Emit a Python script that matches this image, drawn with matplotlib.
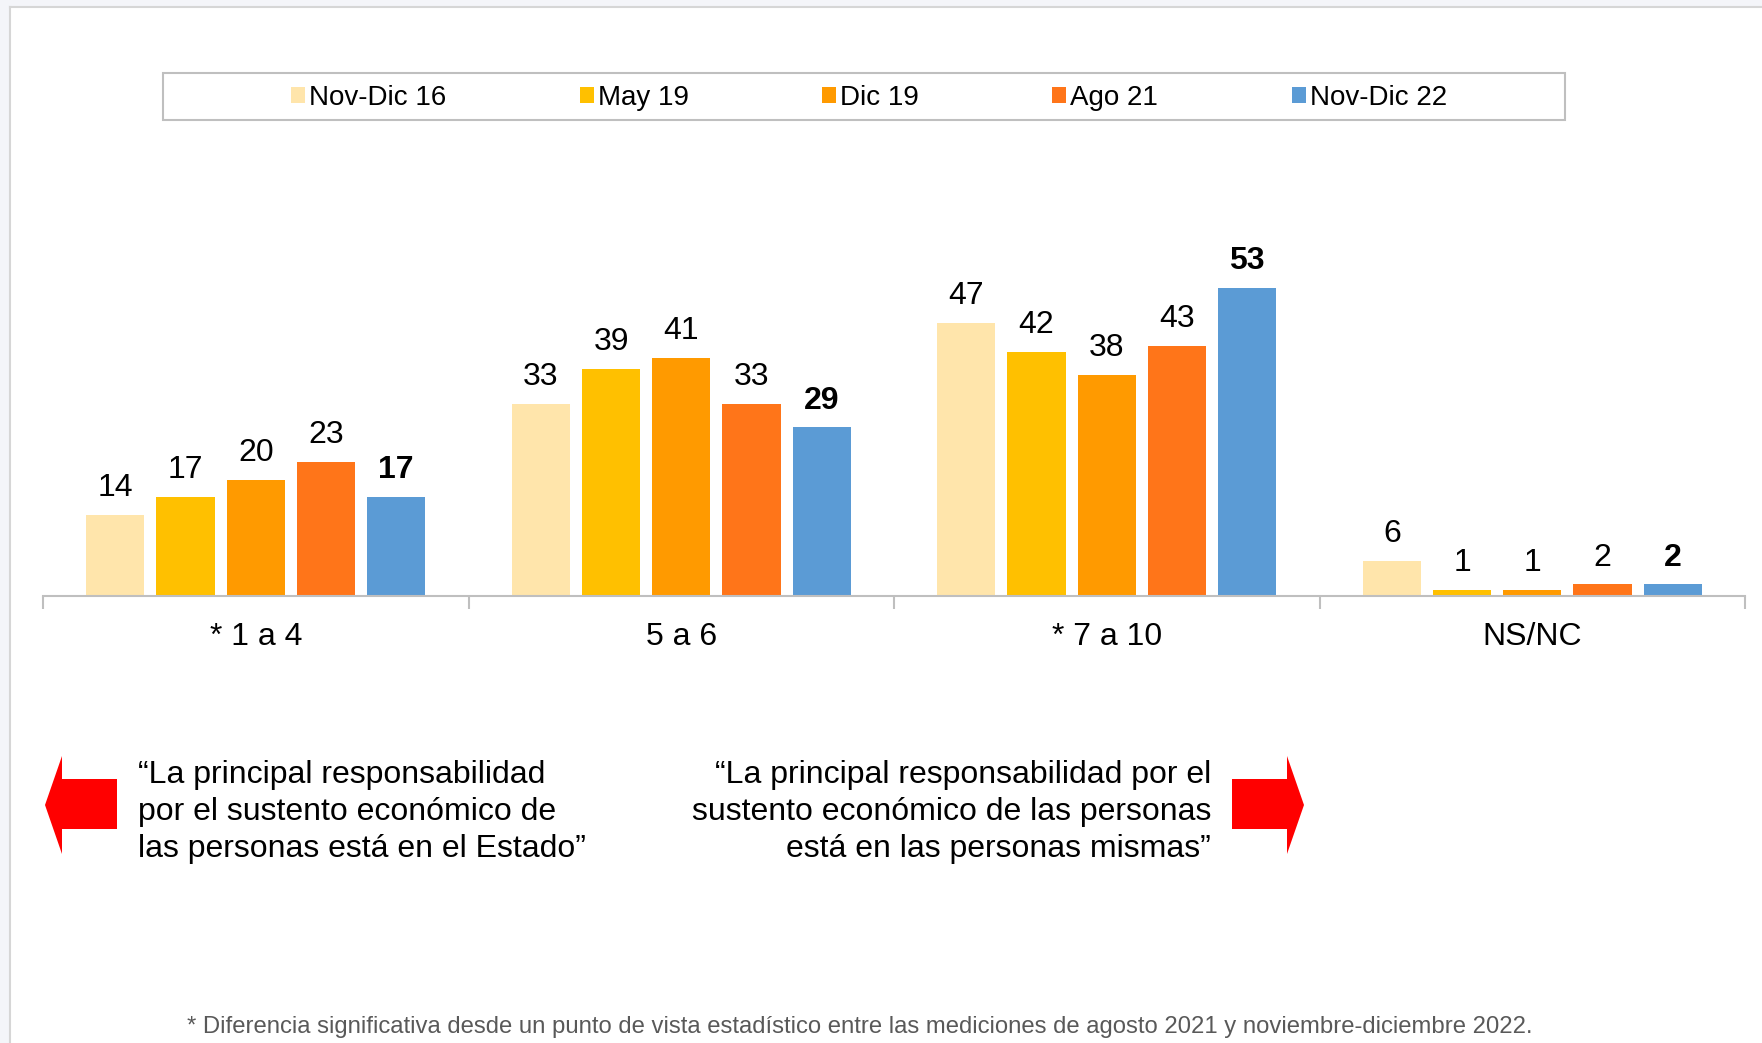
import matplotlib.pyplot as plt
from matplotlib.patches import Rectangle, Polygon

plt.rcParams['font.family'] = ['Liberation Sans', 'DejaVu Sans']

# datos
categories = ['* 1 a 4', '5 a 6', '* 7 a 10', 'NS/NC']
series = ['Nov-Dic 16', 'May 19', 'Dic 19', 'Ago 21', 'Nov-Dic 22']
nov_dic_16 = [14, 33, 47, 6]
may_19 = [17, 39, 42, 1]
dic_19 = [20, 41, 38, 1]
ago_21 = [23, 33, 43, 2]
nov_dic_22 = [17, 29, 53, 2]
values = [nov_dic_16, may_19, dic_19, ago_21, nov_dic_22]
colors = ['#FFE5AB', '#FFC000', '#FF9A00', '#FF7519', '#5B9BD5']

left_text = ('\u201cLa principal responsabilidad\n'
             'por el sustento económico de\n'
             'las personas está en el Estado\u201d')
right_text = ('\u201cLa principal responsabilidad por el\n'
              'sustento económico de las personas\n'
              'está en las personas mismas\u201d')
footnote = ('* Diferencia significativa desde un punto de vista estadístico entre '
            'las mediciones de agosto 2021 y noviembre-diciembre 2022.')

W, H = 1762, 1043
fig = plt.figure(figsize=(W / 100, H / 100), dpi=100)


def fx(x):
    return x / W


def fy(y):
    return 1 - y / H


# fondo gris del marco
fig.patches.append(Rectangle((0, fy(7)), 1, 7 / H, transform=fig.transFigure,
                             facecolor='#f4f5f9', edgecolor='none'))
fig.patches.append(Rectangle((0, 0), fx(10), 1, transform=fig.transFigure,
                             facecolor='#f4f5f9', edgecolor='none'))
fig.add_artist(plt.Line2D([fx(10), 1], [fy(7), fy(7)], transform=fig.transFigure,
                          color='#d6d6d6', lw=1.5))
fig.add_artist(plt.Line2D([fx(10), fx(10)], [0, fy(7)], transform=fig.transFigure,
                          color='#d6d6d6', lw=1.5))

ax = fig.add_axes([fx(43), fy(596), 1702 / W, 349 / H])
step = 0.165
width = 0.137
for i, (name, vals, c) in enumerate(zip(series, values, colors)):
    xs = [k + (i - 2) * step for k in range(len(categories))]
    ax.bar(xs, vals, width=width, color=c, label=name)
    for x, v in zip(xs, vals):
        ax.annotate(str(v), (x, v), xytext=(0, 8.5), textcoords='offset points',
                    ha='center', va='bottom', fontsize=23,
                    fontweight='bold' if i == 4 else 'normal')

ax.set_xlim(-0.5, 3.5)
ax.set_ylim(0, 60)
for s in ['top', 'right', 'left']:
    ax.spines[s].set_visible(False)
ax.spines['bottom'].set_color('#bfbfbf')
ax.spines['bottom'].set_linewidth(1.5)
ax.set_yticks([])
ax.set_xticks([-0.5, 0.5, 1.5, 2.5, 3.5])
ax.set_xticklabels([])
ax.tick_params(axis='x', length=9, width=1.5, color='#bfbfbf')
ax.set_xticks(range(len(categories)), minor=True)
ax.set_xticklabels(categories, minor=True, fontsize=23)
ax.tick_params(axis='x', which='minor', length=0, pad=18.5)

# leyenda
fig.patches.append(Rectangle((fx(163), fy(120)), 1402 / W, 47 / H,
                             transform=fig.transFigure, facecolor='white',
                             edgecolor='#bfbfbf', lw=1.5))
handles, labels = ax.get_legend_handles_labels()
fig.legend(handles, labels, loc='center', bbox_to_anchor=(fx(869), fy(98)),
           ncol=5, frameon=False, fontsize=20, handlelength=0.5,
           handleheight=0.5, handletextpad=0.15, columnspacing=4.8)

# flechas
fig.patches.append(Polygon([(fx(45), fy(805)), (fx(62), fy(756)), (fx(62), fy(779)),
                            (fx(117), fy(779)), (fx(117), fy(829)), (fx(62), fy(829)),
                            (fx(62), fy(854))], closed=True, transform=fig.transFigure,
                           facecolor='#ff0000', edgecolor='none'))
fig.patches.append(Polygon([(fx(1304), fy(805)), (fx(1287), fy(756)), (fx(1287), fy(779)),
                            (fx(1232), fy(779)), (fx(1232), fy(829)), (fx(1287), fy(829)),
                            (fx(1287), fy(854))], closed=True, transform=fig.transFigure,
                           facecolor='#ff0000', edgecolor='none'))

fig.text(fx(138), fy(812), left_text, ha='left', va='center', fontsize=23,
         linespacing=1.3)
fig.text(fx(1211), fy(812), right_text, ha='right', va='center', fontsize=23,
         linespacing=1.3, multialignment='right')

fig.text(fx(860), fy(1027), footnote, ha='center', va='center', fontsize=17.2,
         color='#595959')

fig.savefig('out.png', dpi=100)
